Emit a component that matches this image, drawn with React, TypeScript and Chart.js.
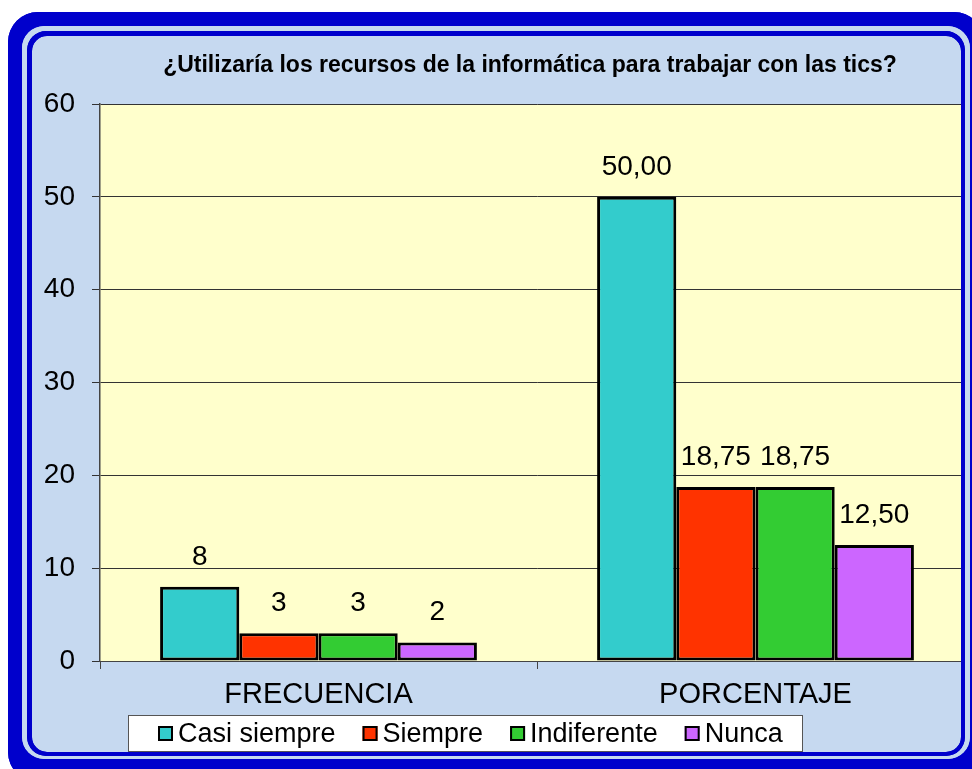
import React, { useEffect, useRef } from "react";
import { Chart, registerables } from "chart.js";

Chart.register(...registerables);

const categories = ["FRECUENCIA", "PORCENTAJE"];
const seriesNames = ["Casi siempre", "Siempre", "Indiferente", "Nunca"];
const casiSiempre = [8, 50];
const siempre = [3, 18.75];
const indiferente = [3, 18.75];
const nunca = [2, 12.5];
const seriesColors = ["#33CCCC", "#FF3300", "#33CC33", "#CC66FF"];
const labelDecimals = [0, 2];
const yMin = 0;
const yMax = 60;
const yStep = 10;
const titleText = "¿Utilizaría los recursos de la informática para trabajar con las tics?";

const FONT = "'Liberation Sans', Arial, sans-serif";
const FRAME_BLUE = "#0000CC";
const FRAME_LIGHT = "#C6D9F0";
const PLOT_BG = "#FFFFCC";

function rrPath(ctx: CanvasRenderingContext2D, x: number, y: number, r2: number, b2: number, r: number) {
  const w = r2 - x;
  const h = b2 - y;
  ctx.moveTo(x + r, y);
  ctx.lineTo(x + w - r, y);
  ctx.arcTo(x + w, y, x + w, y + r, r);
  ctx.lineTo(x + w, y + h - r);
  ctx.arcTo(x + w, y + h, x + w - r, y + h, r);
  ctx.lineTo(x + r, y + h);
  ctx.arcTo(x, y + h, x, y + h - r, r);
  ctx.lineTo(x, y + r);
  ctx.arcTo(x, y, x + r, y, r);
  ctx.closePath();
}

const OUTER = [8, 12, 984, 782, 30];
const BAND = [22, 26, 970, 759, 22];
const THIN = [27, 31, 965, 756, 19];
const FILL = [32, 36, 961, 752, 15];

const framePlugin = {
  id: "framePlugin",
  beforeDraw(chart: any) {
    const ctx = chart.ctx as CanvasRenderingContext2D;
    ctx.save();
    const layers: [number[], string][] = [
      [OUTER, FRAME_BLUE],
      [BAND, FRAME_LIGHT],
      [THIN, FRAME_BLUE],
      [FILL, FRAME_LIGHT],
    ];
    for (const [r, c] of layers) {
      ctx.beginPath();
      rrPath(ctx, r[0], r[1], r[2], r[3], r[4]);
      ctx.fillStyle = c;
      ctx.fill();
    }
    const a = chart.chartArea;
    ctx.fillStyle = PLOT_BG;
    ctx.fillRect(a.left, a.top, a.right - a.left, a.bottom - a.top);
    ctx.restore();
  },
  afterDatasetsDraw(chart: any) {
    const ctx = chart.ctx as CanvasRenderingContext2D;
    ctx.save();
    ctx.font = `28px ${FONT}`;
    ctx.fillStyle = "#000";
    ctx.textAlign = "center";
    ctx.textBaseline = "alphabetic";
    chart.data.datasets.forEach((ds: any, di: number) => {
      const meta = chart.getDatasetMeta(di);
      meta.data.forEach((el: any, i: number) => {
        const v = ds.data[i] as number;
        const txt = v.toFixed(labelDecimals[i]).replace(".", ",");
        ctx.fillText(txt, el.x, el.y - 22);
      });
    });
    ctx.restore();
  },
  afterDraw(chart: any) {
    const ctx = chart.ctx as CanvasRenderingContext2D;
    ctx.save();
    // title
    ctx.font = `bold 23px ${FONT}`;
    ctx.fillStyle = "#000";
    ctx.textAlign = "center";
    ctx.textBaseline = "alphabetic";
    ctx.fillText(titleText, 530, 72);

    // legend
    const lx = 128, ly = 715, lr = 803, lb = 752;
    ctx.fillStyle = "#FFFFFF";
    ctx.fillRect(lx, ly, lr - lx, lb - ly);
    ctx.strokeStyle = "#555";
    ctx.lineWidth = 1;
    ctx.strokeRect(lx + 0.5, ly + 0.5, lr - lx - 1, lb - ly - 1);
    ctx.font = `27px ${FONT}`;
    ctx.textAlign = "left";
    let x = 158;
    chart.data.datasets.forEach((ds: any) => {
      ctx.fillStyle = ds.backgroundColor;
      ctx.fillRect(x, 726, 15, 15);
      ctx.strokeStyle = "#000";
      ctx.lineWidth = 2;
      ctx.strokeRect(x + 1, 727, 13, 13);
      ctx.fillStyle = "#000";
      ctx.fillText(ds.label, x + 20, 742);
      x += 20 + ctx.measureText(ds.label).width + 27;
    });

    // frame ring on top (clips plot overflow)
    const rings: [number[], number[], string][] = [
      [OUTER, BAND, FRAME_BLUE],
      [BAND, THIN, FRAME_LIGHT],
      [THIN, FILL, FRAME_BLUE],
    ];
    for (const [o, i, c] of rings) {
      ctx.beginPath();
      rrPath(ctx, o[0], o[1], o[2], o[3], o[4]);
      rrPath(ctx, i[0], i[1], i[2], i[3], i[4]);
      ctx.fillStyle = c;
      ctx.fill("evenodd");
    }
    ctx.restore();
  },
};

export default function App() {
  const ref = useRef<HTMLCanvasElement | null>(null);
  useEffect(() => {
    if (!ref.current) return;
    const seriesValues = [casiSiempre, siempre, indiferente, nunca];
    const chart = new Chart(ref.current, {
      type: "bar",
      data: {
        labels: categories,
        datasets: seriesNames.map((name, i) => ({
          label: name,
          data: seriesValues[i],
          backgroundColor: seriesColors[i],
          borderColor: "#000",
          borderWidth: 3,
          borderSkipped: false,
          categoryPercentage: 0.725,
          barPercentage: 1,
        })),
      },
      options: {
        animation: false,
        responsive: false,
        devicePixelRatio: 1,
        layout: { padding: { left: 0, top: 104, right: 26, bottom: 58 } },
        plugins: {
          legend: { display: false },
          title: { display: false },
          tooltip: { enabled: false },
        },
        scales: {
          x: {
            afterFit: (s: any) => { s.height = 50; },
            grid: {
              display: true,
              drawOnChartArea: false,
              drawTicks: true,
              tickLength: 8,
              color: "#444",
              offset: true,
            },
            border: { display: true, color: "#444", width: 1 },
            ticks: {
              color: "#000",
              padding: 9,
              font: { family: FONT, size: 29 },
            },
          },
          y: {
            min: yMin,
            max: yMax,
            afterFit: (s: any) => { s.width = 100; },
            grid: {
              color: "#333",
              drawTicks: true,
              tickLength: 8,
              lineWidth: 1,
            },
            border: { display: true, color: "#444", width: 1.5 },
            ticks: {
              stepSize: yStep,
              color: "#000",
              padding: 17,
              font: { family: FONT, size: 28 },
            },
          },
        },
      },
      plugins: [framePlugin],
    });
    return () => chart.destroy();
  }, []);
  return (
    <div style={{ position: "fixed", left: 0, top: 0, width: 972, height: 769, overflow: "hidden", background: "#fff" }}>
      <canvas ref={ref} width={1000} height={769} style={{ display: "block", width: 1000, height: 769 }} />
    </div>
  );
}
